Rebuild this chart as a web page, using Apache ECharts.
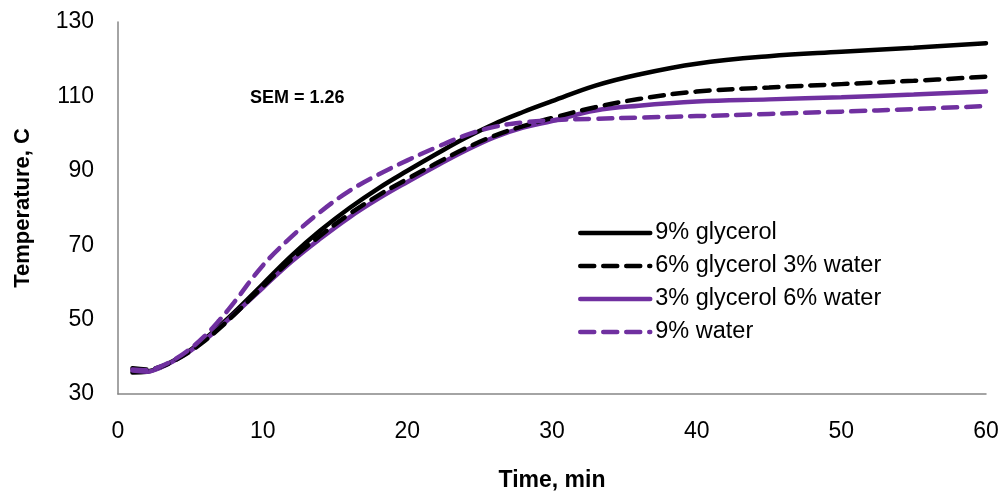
<!DOCTYPE html>
<html><head><meta charset="utf-8">
<script src="https://cdn.jsdelivr.net/npm/echarts@6/dist/echarts.min.js"></script>
<style>html,body{margin:0;padding:0;background:#fff;overflow:hidden}#c{width:999px;height:491px}</style>
</head><body><div id="c"></div>
<script>
const times = [1,2,3,4,5,6,7,8,10,12,14,16,18,20,22,24,26,28,30,33,36,40,45,50,55,60];
const glycerol9 = [35.8,36.0,37.3,39.3,41.8,44.8,48.2,51.8,59.5,67.2,74.0,80.0,85.3,90.0,94.5,98.8,102.6,105.8,108.7,112.9,115.9,118.8,120.8,122.0,123.1,124.3];
const glycerol6water3 = [36.9,36.6,37.4,39.2,41.5,44.3,47.6,51.2,58.8,66.2,72.6,78.4,83.4,87.8,92.0,96.0,99.4,102.0,104.2,107.1,109.3,111.3,112.4,113.3,114.2,115.3];
const glycerol3water6 = [36.3,36.0,37.2,39.2,41.6,44.5,47.8,51.3,58.5,65.6,71.8,77.5,82.5,87.0,91.3,95.4,99.0,101.6,103.4,106.2,107.5,108.6,109.2,109.8,110.5,111.3];
const water9 = [36.6,36.4,37.5,39.5,42.2,45.6,49.8,54.5,64.5,72.3,79.0,84.6,89.0,92.8,96.3,99.5,101.8,103.0,103.6,104.0,104.3,104.7,105.3,105.9,106.6,107.4];
const seriesNames = ['9% glycerol','6% glycerol 3% water','3% glycerol 6% water','9% water'];
const xTicks = [0,10,20,30,40,50,60];
const yTicks = [30,50,70,90,110,130];

const FONT = 'Liberation Sans, Arial, sans-serif';
const PURPLE = '#7030A0';
function pair(v){ return times.map((t,i)=>[t,v[i]]); }
function mk(name, data, color, dashed){
  return {name, type:'line', data:pair(data), smooth:0.4, symbol:'none',
    lineStyle:{color, width:4.5, type: dashed ? [14,9] : 'solid', cap:'round'},
    itemStyle:{color}, z: dashed?3:2};
}
const chart = echarts.init(document.getElementById('c'), null, {renderer:'canvas'});
chart.setOption({
  animation:false,
  backgroundColor:'#fff',
  grid:{left:118, right:13, top:22, bottom:97, containLabel:false, outerBoundsMode:'none'},
  xAxis:{type:'value', min:xTicks[0], max:xTicks[xTicks.length-1], interval:10,
    name:'Time, min', nameLocation:'middle', nameGap:75,
    nameTextStyle:{fontFamily:FONT, fontSize:23, fontWeight:'bold', color:'#000'},
    axisLine:{lineStyle:{color:'#868686', width:1.5}}, axisTick:{show:false},
    splitLine:{show:false},
    axisLabel:{fontFamily:FONT, fontSize:23, color:'#000', margin:26}},
  yAxis:{type:'value', min:yTicks[0], max:yTicks[yTicks.length-1], interval:20,
    name:'Temperature, C', nameLocation:'middle', nameGap:84, nameRotate:90,
    nameTextStyle:{fontFamily:FONT, fontSize:22, fontWeight:'bold', color:'#000'},
    axisLine:{show:true, lineStyle:{color:'#868686', width:1.5}}, axisTick:{show:false},
    splitLine:{show:false},
    axisLabel:{fontFamily:FONT, fontSize:23, color:'#000', margin:24}},
  legend:{orient:'vertical', left:573, top:216, itemWidth:70, itemHeight:14, itemGap:9,
    itemStyle:{opacity:0}, lineStyle:{width:4.5},
    textStyle:{fontFamily:FONT, fontSize:23.5, lineHeight:24, color:'#000'},
    data:seriesNames},
  graphic:[{type:'text', left:250, top:89, style:{text:'SEM = 1.26', fontFamily:FONT, fontSize:18, fontWeight:'bold', fill:'#000'}}],
  series:[
    mk(seriesNames[0], glycerol9, '#000', false),
    mk(seriesNames[1], glycerol6water3, '#000', true),
    mk(seriesNames[2], glycerol3water6, PURPLE, false),
    mk(seriesNames[3], water9, PURPLE, true)
  ]
});
</script></body></html>
